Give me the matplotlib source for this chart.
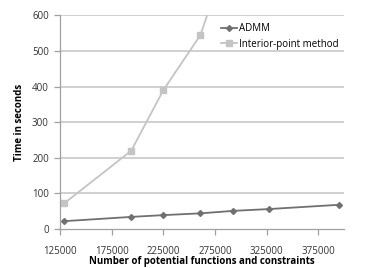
import matplotlib
matplotlib.use("Agg")
import matplotlib.pyplot as plt

# data
x_admm = [129000, 194000, 225000, 261000, 293000, 327000, 395000]
y_admm = [22, 34, 39, 44, 51, 56, 68]

x_ipm = [129000, 194000, 225000, 261000, 293000]
y_ipm = [72, 220, 390, 545, 820]

x_ticks = [125000, 175000, 225000, 275000, 325000, 375000]
y_ticks = [0, 100, 200, 300, 400, 500, 600]

plt.rcParams["font.family"] = ["Open Sans", "DejaVu Sans"]


def plot() -> None:
    fig = plt.figure(figsize=(3.74, 2.68), dpi=100)
    ax = fig.add_axes([60 / 374, 1 - 229 / 268, 284 / 374, 213.5 / 268])

    for y in y_ticks[1:]:
        ax.axhline(y, color="#c8c8c8", lw=1.2, zorder=0)

    ax.plot(x_admm, y_admm, color="#707070", lw=1.3, marker="D",
            markersize=3, label="ADMM", zorder=3)
    ax.plot(x_ipm, y_ipm, color="#c4c4c4", lw=1.3, marker="s",
            markersize=4, label="Interior-point method", zorder=2)

    ax.set_xlim(125000, 400000)
    ax.set_ylim(0, 600)
    ax.set_xticks(x_ticks)
    ax.set_yticks(y_ticks)
    ax.set_xticklabels([str(v) for v in x_ticks])

    for side in ("top", "right"):
        ax.spines[side].set_visible(False)
    for side in ("left", "bottom"):
        ax.spines[side].set_color("#a0a0a0")
        ax.spines[side].set_linewidth(0.9)
    ax.tick_params(axis="both", colors="#a0a0a0", labelcolor="#333333",
                   labelsize=7, length=4, width=0.9)
    ax.tick_params(axis="x", pad=8)
    ax.tick_params(axis="y", pad=4)

    ax.set_xlabel("Number of potential functions and constraints",
                  fontsize=7, fontweight="bold", labelpad=-0.5)
    ax.set_ylabel("Time in seconds", fontsize=7, fontweight="bold",
                  labelpad=5)

    ax.legend(loc="upper right", bbox_to_anchor=(1.0, 0.99), frameon=False,
              fontsize=7, handlelength=1.6, handletextpad=0.2,
              labelspacing=0.45, borderaxespad=0.2)

    fig.savefig("out.png", dpi=100)


if __name__ == "__main__":
    plot()
